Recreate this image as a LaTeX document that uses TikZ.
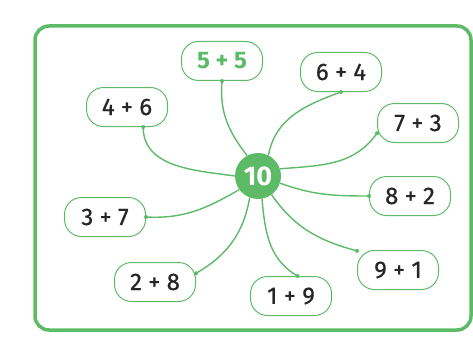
\documentclass[tikz,border=0pt]{standalone}
\usepackage{fontspec}
\setmainfont{Fira Sans}
\newfontfamily\sumfont{Fira Sans}[FakeBold=0.7]
\usetikzlibrary{calc}
\definecolor{leafGreen}{HTML}{5DBB68}
\definecolor{inkBlack}{HTML}{262626}
\newcommand{\JoinDot}[1]{
    % small dot where a spoke meets a box
    \fill[leafGreen] (#1) circle (2pt);
}
\tikzset{
    sumbox/.style={draw=leafGreen, line width=1pt, rounded corners=17pt, minimum width=81pt, minimum height=39pt, inner sep=0pt, text=inkBlack, font=\fontsize{24}{24}\sumfont},
    hub/.style={circle, fill=leafGreen, minimum size=46pt, inner sep=0pt, text=white, font=\fontsize{27}{27}\selectfont\bfseries},
    spoke/.style={draw=leafGreen, line width=1.4pt}
}

\begin{document}
\begin{tikzpicture}[x=1pt, y=1pt]
        \useasboundingbox (0,0) rectangle (473,338);
        % Frame
        \draw[leafGreen, line width=3.5pt, rounded corners=14pt] (35,8) rectangle (471,312);

        % Centre
        \node[hub] (ten) at (258,162) {10};

        % Sums
        \node[sumbox, text=leafGreen, font=\fontsize{24}{24}\selectfont\bfseries] (b55) at (222,277) {5 + 5};
        \node[sumbox] (b64) at (341,266) {6 + 4};
        \node[sumbox] (b46) at (127,231) {4 + 6};
        \node[sumbox] (b73) at (418,215) {7 + 3};
        \node[sumbox] (b82) at (410,142) {8 + 2};
        \node[sumbox] (b37) at (105,121) {3 + 7};
        \node[sumbox] (b28) at (155,56) {2 + 8};
        \node[sumbox] (b91) at (398,68) {9 + 1};
        \node[sumbox] (b19) at (291,42) {1 + 9};

        % Spokes
        \draw[spoke] (b55.south) to[out=-95, in=128] (ten.118);
        \draw[spoke] (b64.south) to[out=200, in=80] (ten.63);
        \draw[spoke] (b46.-51) to[out=-90, in=172] (ten.180);
        \draw[spoke] (b73.194) to[out=235, in=5] (ten.18);
        \draw[spoke] (b82.west) to[out=180, in=-20] (ten.-18);
        \draw[spoke] (b37.east) to[out=-3, in=210] (ten.216);
        \draw[spoke] (b28.12) to[out=30, in=-100] (ten.249);
        \draw[spoke] (b19.72) to[out=150, in=-85] (ten.280);
        \draw[spoke] (b91.155) to[out=165, in=-55] (ten.306);

        % Dots
        \JoinDot{b55.south}
        \JoinDot{b64.south}
        \JoinDot{b46.-51}
        \JoinDot{b73.194}
        \JoinDot{b82.west}
        \JoinDot{b37.east}
        \JoinDot{b28.12}
        \JoinDot{b19.72}
        \JoinDot{b91.155}
\end{tikzpicture}
\end{document}
